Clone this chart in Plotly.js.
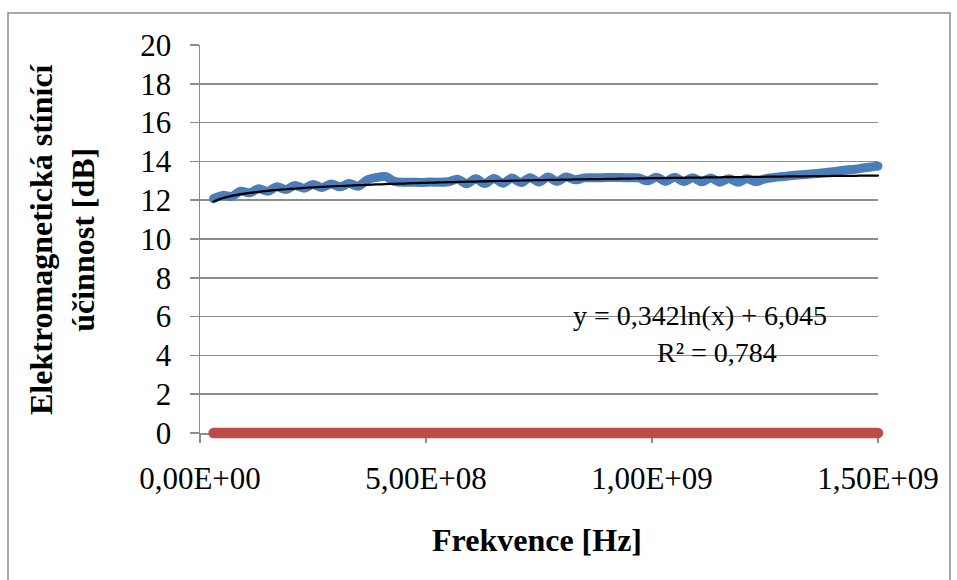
<!DOCTYPE html>
<html>
<head>
<meta charset="utf-8">
<script src="https://cdn.plot.ly/plotly-3.0.1.min.js"></script>
<style>
  html, body { margin: 0; padding: 0; background: #ffffff; }
  #chart { width: 957px; height: 580px; }
</style>
</head>
<body>
<div id="chart"></div>
<script>
// Frequencies in MHz
const freqMHz = [
  30, 50, 70, 90, 110, 130, 150, 170, 190, 210,
  230, 250, 270, 290, 310, 330, 350, 370, 390, 410,
  430, 450, 470, 490, 510, 530, 550, 570, 590, 610,
  630, 650, 670, 690, 710, 730, 750, 770, 790, 810,
  830, 850, 870, 890, 910, 930, 950, 970, 990, 1010,
  1030, 1050, 1070, 1090, 1110, 1130, 1150, 1170, 1190, 1210,
  1230, 1250, 1270, 1290, 1310, 1330, 1350, 1370, 1390, 1410,
  1430, 1450, 1470, 1490, 1500
];
// Shielding effectiveness [dB] (blue series)
const shieldingDb = [
  12.08, 12.25, 12.20, 12.46, 12.38, 12.59, 12.46, 12.69, 12.55, 12.76,
  12.62, 12.81, 12.65, 12.84, 12.69, 12.86, 12.72, 13.05, 13.17, 13.22,
  12.97, 12.92, 12.93, 12.91, 12.94, 12.92, 12.95, 13.08, 12.85, 13.10,
  12.86, 13.12, 12.88, 13.14, 12.91, 13.16, 12.94, 13.19, 12.97, 13.19,
  13.05, 13.15, 13.16, 13.16, 13.17, 13.17, 13.16, 13.15, 13.00, 13.18,
  12.97, 13.18, 12.96, 13.16, 12.95, 13.14, 12.93, 13.11, 12.93, 13.10,
  12.95, 13.10, 13.17, 13.22, 13.27, 13.31, 13.35, 13.39, 13.44, 13.50,
  13.56, 13.60, 13.67, 13.73, 13.76
];
// Second (red) series
const refFreqMHz = [30, 1500];
const refDb = [0, 0];
// Trendline coefficients as printed on the chart: y = a ln(x) + b
const trendCoef = [0.342, 6.045];
const trendLabel = "y = 0,342ln(x) + 6,045";
const r2Label = "R² = 0,784";

// Axis ticks
const xTickVals = [0, 5e8, 1e9, 1.5e9];
const xTickText = ["0,00E+00", "5,00E+08", "1,00E+09", "1,50E+09"];
const yTickVals = [0, 2, 4, 6, 8, 10, 12, 14, 16, 18, 20];
const yTickText = ["0", "2", "4", "6", "8", "10", "12", "14", "16", "18", "20"];

const xTitle = "Frekvence [Hz]";
const yTitle = "Elektromagnetická stínící<br>účinnost [dB]";

const freqHz = freqMHz.map(f => f * 1e6);
const refHz = refFreqMHz.map(f => f * 1e6);
const trendDb = freqHz.map(f => trendCoef[0] * Math.log(f) + trendCoef[1]);

const serif = "Liberation Serif";
const grid = "#8c8c8c";

const W = 957, H = 580;
const mL = 200, mR = 79, mT = 45, mB = 147;
const pw = W - mL - mR, ph = H - mT - mB;
const px = x => (x - mL) / pw;
const py = y => (H - mB - y) / ph;

const traces = [
  {
    x: freqHz, y: shieldingDb, type: "scatter", mode: "lines",
    line: { color: "#4A7EBB", width: 9, shape: "spline", smoothing: 1 },
    hoverinfo: "skip", cliponaxis: false
  },
  {
    x: refHz, y: refDb, type: "scatter", mode: "lines",
    line: { color: "#BE4B48", width: 10.5 },
    hoverinfo: "skip", cliponaxis: false
  },
  {
    x: freqHz, y: trendDb, type: "scatter", mode: "lines",
    line: { color: "#000000", width: 2.25, shape: "spline", smoothing: 1 },
    hoverinfo: "skip", cliponaxis: false
  }
];

const layout = {
  width: W, height: H,
  margin: { l: mL, r: mR, t: mT, b: mB, pad: 0 },
  paper_bgcolor: "#ffffff", plot_bgcolor: "#ffffff",
  showlegend: false,
  font: { family: serif, size: 28, color: "#000000" },
  xaxis: {
    range: [0, 1.5e9], tickmode: "array", tickvals: xTickVals, ticktext: xTickText,
    ticks: "outside", ticklen: 8, tickwidth: 1.5, tickcolor: grid,
    showline: true, linecolor: grid, linewidth: 1.5,
    showgrid: false, zeroline: false, layer: "below traces",
    tickfont: { family: serif, size: 31, color: "#000000" },
    ticklabelstandoff: 9, fixedrange: true
  },
  yaxis: {
    range: [0, 20], tickmode: "array", tickvals: yTickVals, ticktext: yTickText,
    ticks: "outside", ticklen: 9, tickwidth: 1.5, tickcolor: grid,
    showline: true, linecolor: grid, linewidth: 1.5,
    showgrid: true, gridcolor: grid, gridwidth: 1.75,
    zeroline: false, layer: "below traces",
    tickfont: { family: serif, size: 31, color: "#000000" },
    ticklabelstandoff: 12, fixedrange: true
  },
  shapes: [
    {
      type: "rect", xref: "paper", yref: "paper",
      x0: px(8), x1: px(950), y0: py(600), y1: py(13),
      line: { color: "#8c8c8c", width: 1.5 }, fillcolor: "rgba(0,0,0,0)", layer: "below"
    }
  ],
  annotations: [
    {
      text: "<b>" + yTitle + "</b>", xref: "paper", yref: "paper",
      x: px(62), y: py(239), xanchor: "center", yanchor: "middle",
      textangle: -90, showarrow: false,
      font: { family: serif, size: 32, color: "#000000" }
    },
    {
      text: "<b>" + xTitle + "</b>", xref: "paper", yref: "paper",
      x: px(537), y: py(540), xanchor: "center", yanchor: "middle",
      showarrow: false,
      font: { family: serif, size: 32, color: "#000000" }
    },
    {
      text: trendLabel, xref: "paper", yref: "paper",
      x: px(700), y: py(315), xanchor: "center", yanchor: "middle",
      showarrow: false,
      font: { family: serif, size: 28, color: "#000000" }
    },
    {
      text: r2Label, xref: "paper", yref: "paper",
      x: px(717), y: py(352), xanchor: "center", yanchor: "middle",
      showarrow: false,
      font: { family: serif, size: 28, color: "#000000" }
    }
  ]
};

Plotly.newPlot("chart", traces, layout, { staticPlot: true, displayModeBar: false }).then(() => {
  document.querySelectorAll("#chart .cartesianlayer [clip-path]").forEach(el => el.removeAttribute("clip-path"));
  document.querySelectorAll("#chart .cartesianlayer .js-line").forEach(el => {
    el.style.strokeLinecap = "round";
    el.style.strokeLinejoin = "round";
  });
});
</script>
</body>
</html>
